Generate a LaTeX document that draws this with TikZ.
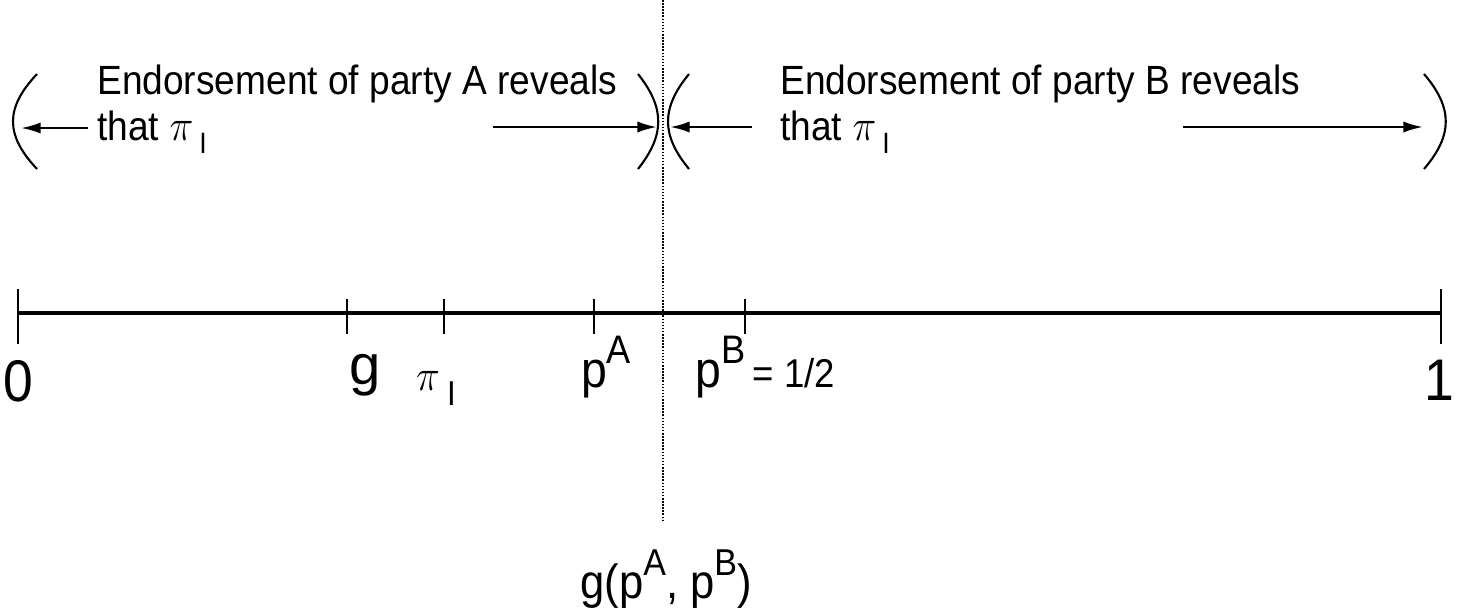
\documentclass[tikz,border=0pt]{standalone}
\usepackage{fontspec}
\setmainfont{Liberation Sans}
\usepackage{graphicx}
\usetikzlibrary{arrows.meta}
% raised / lowered small letters
\newcommand{\supr}[1]{\raisebox{0.47em}{\scalebox{0.78}{#1}}}
\newcommand{\subr}[1]{\raisebox{-0.32em}{\scalebox{0.72}{#1}}}
\newcommand{\tallbox}[1]{\scalebox{1}[1.1]{#1}}
\newcommand{\bigpi}{\scalebox{1.15}{$\pi$}}
\tikzset{
  axis/.style={line width=2.8pt},
  tick/.style={line width=1.6pt},
  paren/.style={line width=1.5pt},
  arrow/.style={-{Latex[length=14pt, width=8pt]}, line width=1.7pt},
  guide/.style={dash pattern=on 1.1pt off 1.1pt, line width=1.3pt},
  note/.style={font=\fontsize{26.4}{30}\selectfont, anchor=base west, inner sep=0pt},
  bignum/.style={font=\fontsize{38}{40}\selectfont, anchor=base, inner sep=0pt},
  point/.style={font=\fontsize{33}{35}\selectfont, anchor=base, inner sep=0pt},
}
\begin{document}
\begin{tikzpicture}[x=0.25mm, y=-0.25mm]
  \useasboundingbox (0,0) rectangle (1459,614);
  % the axis
  \coordinate (lo) at (18,313);
  \coordinate (hi) at (1441,313);
  \draw[axis] (lo) -- (hi);
  \draw[tick] (18,289) -- (18,344);
  \draw[tick] (1441,289) -- (1441,344);
  \foreach \x in {347,444,594,745}
    \draw[tick] (\x,299) -- (\x,334);
  % labels under the axis
  \node[bignum] (zero) at (18,401) {\tallbox{0}};
  \node[bignum] (one)  at (1439,400) {\tallbox{1}};
  \node[bignum, font=\fontsize{40}{42}\selectfont] (g) at (365,384) {g};
  \node[point, font=\fontsize{31}{33}\selectfont] (pi) at (436,390) {\tallbox{\bigpi\,\subr{I}}};
  \node[point]  (pa)   at (606,387) {\tallbox{p\supr{A}}};
  \node[point, anchor=base west] (pb) at (695,387)
    {\tallbox{p\supr{B}\,{\fontsize{26}{28}\selectfont = 1/2}}};
  % dotted divide
  \node[point, font=\fontsize{31}{33}\selectfont] (gab) at (666,598)
    {\tallbox{g(p\supr{A}, p\supr{B})}};
  \coordinate (top) at (663,0);
  \coordinate (bot) at (663,522);
  \draw[guide] (top) -- (bot);
  % interval of party A
  \draw[paren] (37,74) .. controls (5,108) and (5,135) .. (37,169);
  \draw[paren] (638,74) .. controls (665,108) and (665,135) .. (638,169);
  \node[note] (enda) at (97,94) {\tallbox{Endorsement of party A reveals}};
  \node[note] (thata) at (97,140) {\tallbox{that \bigpi\,\subr{I}}};
  \coordinate (a1) at (88,128);
  \coordinate (a2) at (21,128);
  \coordinate (a3) at (493,127);
  \coordinate (a4) at (657,127);
  \draw[arrow] (a1) -- (a2);
  \draw[arrow] (a3) -- (a4);
  % interval of party B
  \draw[paren] (689,74) .. controls (661,108) and (661,135) .. (689,169);
  \draw[paren] (1424,74) .. controls (1453,108) and (1453,135) .. (1424,169);
  \node[note] (endb) at (780,94) {\tallbox{Endorsement of party B reveals}};
  \node[note] (thatb) at (780,140) {\tallbox{that \bigpi\,\subr{I}}};
  \coordinate (b1) at (752,127);
  \coordinate (b2) at (670,127);
  \coordinate (b3) at (1183,127);
  \coordinate (b4) at (1423,127);
  \draw[arrow] (b1) -- (b2);
  \draw[arrow] (b3) -- (b4);
\end{tikzpicture}
\end{document}
